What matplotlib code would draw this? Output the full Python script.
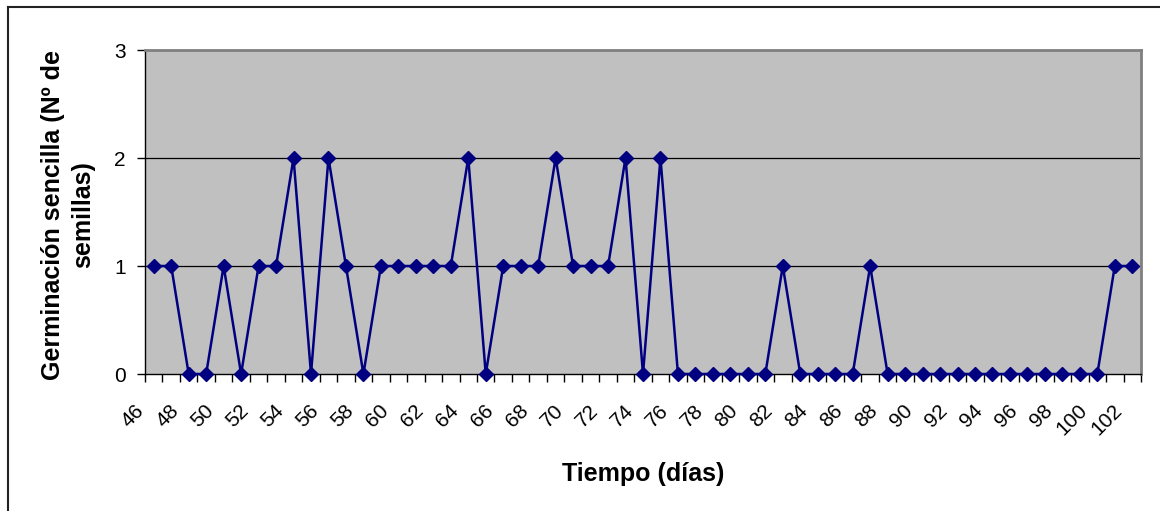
import matplotlib
matplotlib.use("Agg")
import matplotlib.pyplot as plt
from matplotlib.lines import Line2D
from matplotlib.transforms import ScaledTranslation

plt.rcParams['font.family'] = ['Liberation Sans', 'DejaVu Sans']

# Data
dias = list(range(46, 103))
germinacion = [1, 1, 0, 0, 1, 0, 1, 1, 2, 0,
               2, 1, 0, 1, 1, 1, 1, 1, 2, 0,
               1, 1, 1, 2, 1, 1, 1, 2, 0, 2,
               0, 0, 0, 0, 0, 0, 1, 0, 0, 0,
               0, 1, 0, 0, 0, 0, 0, 0, 0, 0,
               0, 0, 0, 0, 0, 1, 1]
y_ticks = [0, 1, 2, 3]
x_label_days = dias[::2]

W, H = 1160, 511
fig = plt.figure(figsize=(W / 100, H / 100), dpi=100)
ax = fig.add_axes([145 / W, 1 - 374 / H, (1141 - 145) / W, (374 - 50) / H])
ax.set_facecolor('#C0C0C0')

pos = list(range(len(dias)))
ax.plot(pos, germinacion, color='#000080', lw=1.8, marker='D', ms=7,
        mfc='#000080', mec='#000080', mew=1, zorder=3, clip_on=False)

ax.set_xlim(-0.5, len(dias) - 0.5)
ax.set_ylim(0, 3)

# y axis
ax.set_yticks(y_ticks)
ax.set_yticklabels([str(v) for v in y_ticks])
ax.tick_params(axis='y', direction='out', length=6, width=1, pad=8, color='black',
               labelsize=15)
for v in y_ticks[1:-1]:
    ax.axhline(v, color='black', lw=0.9, zorder=1)

# x axis: ticks at category boundaries, labels every other category
ax.set_xticks([p - 0.5 for p in range(len(dias) + 1)])
ax.set_xticklabels([])
ax.tick_params(axis='x', which='major', direction='out', length=6, width=1, color='black')
label_pos = [dias.index(d) for d in x_label_days]
ax.set_xticks(label_pos, minor=True)
ax.tick_params(axis='x', which='minor', length=0, pad=0, labelsize=15)
ax.set_xticklabels([str(d) for d in x_label_days], minor=True, fontsize=15,
                   rotation=45, ha='right', va='top')
offset = ScaledTranslation(-6 / 100, -27 / 100, fig.dpi_scale_trans)
for lab in ax.get_xticklabels(minor=True):
    lab.set_fontsize(15)
    lab.set_transform(lab.get_transform() + offset)

for s in ['top', 'right']:
    ax.spines[s].set_color('#808080')
    ax.spines[s].set_linewidth(2)
for s in ['left', 'bottom']:
    ax.spines[s].set_color('black')
    ax.spines[s].set_linewidth(1)

# Axis titles
fig.text(643 / W, 1 - 474 / H, 'Tiempo (días)', fontsize=18, fontweight='bold',
         ha='center', va='center')
fig.text(68 / W, 1 - 215 / H, 'Germinación sencilla (Nº de\nsemillas)', fontsize=18,
         fontweight='bold', rotation=90, ha='center', va='center',
         multialignment='center', linespacing=1.3)

# Chart-area border (cropped on right/bottom)
fig.add_artist(Line2D([8 / W, 8 / W], [1 - 7.5 / H, 0], transform=fig.transFigure,
                      color='#222222', lw=1.5))
fig.add_artist(Line2D([8 / W, 1], [1 - 7.5 / H, 1 - 7.5 / H], transform=fig.transFigure,
                      color='#222222', lw=1.5))

fig.savefig('out.png', dpi=100, facecolor='white')
